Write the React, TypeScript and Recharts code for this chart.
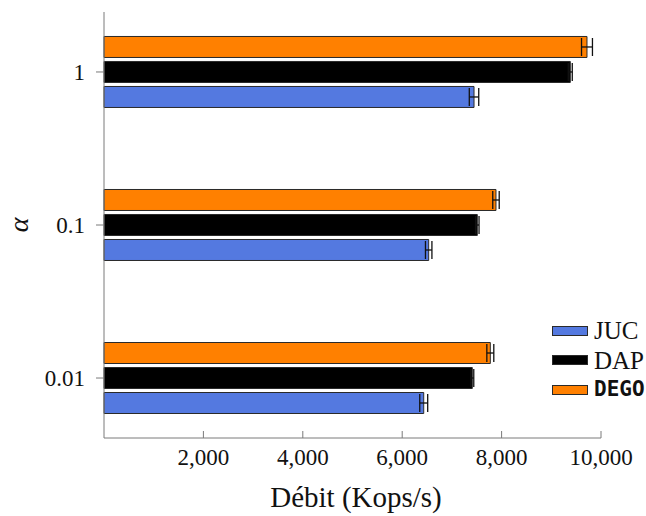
import { BarChart, Bar, XAxis, YAxis, ErrorBar } from 'recharts';

// categories listed from top to bottom of the chart
const categories = ['1', '0.1', '0.01'];
const jucValues = [7445, 6533, 6433];
const dapValues = [9382, 7511, 7410];
const degoValues = [9718, 7887, 7773];
const jucErrors = [95, 65, 80];
const dapErrors = [40, 35, 30];
const degoErrors = [110, 65, 70];
const xTicks = [2000, 4000, 6000, 8000, 10000];

const serif = '"Liberation Serif", "Times New Roman", serif';
const mono = '"DejaVu Sans Mono", monospace';
const axisGray = '#7a7a7a';

const series = [
    { key: 'dego', name: 'DEGO', color: '#ff8000', font: mono },
    { key: 'dap', name: 'DAP', color: '#000000', font: serif },
    { key: 'juc', name: 'JUC', color: '#5479e0', font: serif },
];

const data = categories.map((c, i) => ({
    pos: i,
    label: c,
    juc: jucValues[i],
    dap: dapValues[i],
    dego: degoValues[i],
    jucErr: jucErrors[i],
    dapErr: dapErrors[i],
    degoErr: degoErrors[i],
}));

const XTick = ({ x, y, payload }: any) => (
    <g>
        <line x1={x} x2={x} y1={y - 7} y2={y} stroke={axisGray} strokeWidth={1} />
        <text x={x} y={y + 27} textAnchor="middle" fontFamily={serif} fontSize={23} fill="#111">
            {payload.value.toLocaleString('en-US')}
        </text>
    </g>
);

const YTick = ({ x, y, payload }: any) => (
    <g>
        <line x1={x - 8} x2={x} y1={y} y2={y} stroke={axisGray} strokeWidth={1} />
        <text x={x - 19} y={y + 8} textAnchor="end" fontFamily={serif} fontSize={23} fill="#111">
            {categories[payload.value]}
        </text>
    </g>
);

export default function App() {
    // legend order is the reverse of the drawing order
    const legendItems = [...series].reverse();
    return (
        <div style={{ position: 'absolute', left: 0, top: 0, width: 646, height: 516, background: '#fff' }}>
            <BarChart
                width={646}
                height={516}
                data={data}
                layout="vertical"
                margin={{ top: 12, right: 45, bottom: 0, left: 0 }}
                barSize={21}
                barGap={4}
            >
                <XAxis
                    type="number"
                    domain={[0, 10000]}
                    ticks={xTicks}
                    height={78}
                    tickSize={0}
                    tickMargin={0}
                    tick={<XTick />}
                    stroke={axisGray}
                    label={{
                        content: () => (
                            <text x={356} y={507} textAnchor="middle" fontFamily={serif} fontSize={29} fill="#111">
                                Débit (Kops/s)
                            </text>
                        ),
                    }}
                />
                <YAxis
                    type="number"
                    dataKey="pos"
                    domain={[-0.392, 2.392]}
                    ticks={[0, 1, 2]}
                    width={104}
                    tickSize={0}
                    tickMargin={0}
                    tick={<YTick />}
                    stroke={axisGray}
                    allowDataOverflow
                    label={{
                        content: () => (
                            <text
                                x={28}
                                y={225}
                                textAnchor="middle"
                                fontFamily={serif}
                                fontStyle="italic"
                                fontSize={28}
                                fill="#111"
                                transform="rotate(-90 28 225)"
                            >
                                α
                            </text>
                        ),
                    }}
                />
                {series.map((s) => (
                    <Bar key={s.key} dataKey={s.key} name={s.name} fill={s.color} stroke="#2a2a2a" strokeWidth={1} isAnimationActive={false}>
                        <ErrorBar dataKey={`${s.key}Err`} direction="x" width={9} stroke="#111" strokeWidth={1.3} isAnimationActive={false} />
                    </Bar>
                ))}
            </BarChart>
            <div style={{ position: 'absolute', left: 552, top: 316 }}>
                {legendItems.map((s) => (
                    <div key={s.key} style={{ display: 'flex', alignItems: 'center', height: 29.5 }}>
                        <div style={{ width: 34, height: 8, background: s.color, border: '1px solid #2a2a2a' }} />
                        <span
                            style={{
                                marginLeft: 6,
                                fontFamily: s.font,
                                fontSize: s.font === mono ? 21 : 25,
                                fontWeight: s.font === mono ? 'bold' : 'normal',
                                color: '#111',
                                lineHeight: 1,
                            }}
                        >
                            {s.name}
                        </span>
                    </div>
                ))}
            </div>
        </div>
    );
}
